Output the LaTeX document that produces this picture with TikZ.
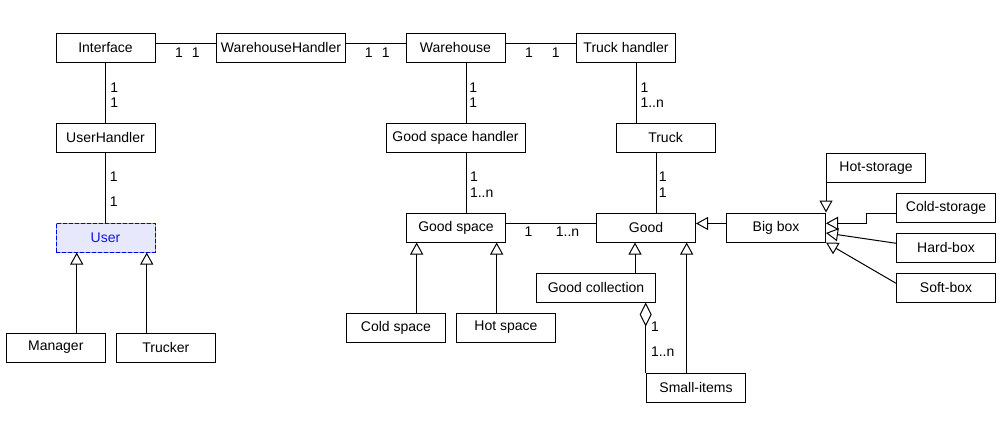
\documentclass[tikz,border=0pt]{standalone}
\usepackage{fontspec}
\setmainfont{Liberation Sans}
\usetikzlibrary{arrows.meta}

\definecolor{userfill}{RGB}{232,232,252}
\definecolor{userline}{RGB}{0,0,225}
\definecolor{userdash}{RGB}{110,160,255}
\definecolor{usertext}{RGB}{20,20,230}

\tikzset{every picture/.style={line width=0.75pt}}
\tikzset{
  cls/.style={draw, minimum width=74.25pt, minimum height=21.75pt, inner sep=2pt, font=\fontsize{10.5}{12}\selectfont},
  userbox/.style={cls, draw=userline, dash pattern=on 3pt off 1.5pt, text=usertext, preaction={draw=userdash, solid, fill=userfill}},
  lbl/.style={inner sep=0pt, font=\fontsize{10.5}{12}\selectfont},
  gen/.style={-{Triangle[open,length=9pt,width=9.75pt]}},
  agg/.style={{Diamond[open,length=18pt,width=9pt]}-},
}

\begin{document}
\begin{tikzpicture}[x=0.75pt,y=0.75pt,yscale=-1,xscale=1]
\useasboundingbox (0,0) rectangle (1006,429);

%Shape: Rectangle [Interface]
\node[cls] (iface) at (105.5,47.5) {Interface};
%Shape: Rectangle [WarehouseHandler]
\node[cls, minimum width=96.75pt] (whandler) at (281,47.5) {WarehouseHandler};
%Shape: Rectangle [Warehouse]
\node[cls] (warehouse) at (455.5,47.5) {Warehouse};
%Shape: Rectangle [Truck handler]
\node[cls] (thandler) at (626,47.5) {Truck handler};
%Shape: Rectangle [UserHandler]
\node[cls] (uhandler) at (105.5,137.5) {UserHandler};
%Shape: Rectangle [Good space handler]
\node[cls, minimum width=104.25pt] (gshandler) at (455.5,137.5) {Good space handler};
%Shape: Rectangle [Truck]
\node[cls] (truck) at (665.5,137.5) {Truck};
%Shape: Rectangle [User]
\node[userbox] (user) at (105.5,237.5) {User};
%Shape: Rectangle [Manager]
\node[cls] (manager) at (55.8,347.5) {Manager};
%Shape: Rectangle [Trucker]
\node[cls] (trucker) at (165.8,347.5) {Trucker};
%Shape: Rectangle [Good space]
\node[cls] (gspace) at (456,227.5) {Good space};
%Shape: Rectangle [Good]
\node[cls] (good) at (646,227.5) {Good};
%Shape: Rectangle [Big box]
\node[cls] (bigbox) at (776,227.5) {Big box};
%Shape: Rectangle [Good collection]
\node[cls, minimum width=89.5pt] (gcoll) at (596,287.5) {Good collection};
%Shape: Rectangle [Cold space]
\node[cls] (cold) at (396,327.5) {Cold space};
%Shape: Rectangle [Hot space]
\node[cls] (hot) at (506,327.5) {Hot space};
%Shape: Rectangle [Small-items]
\node[cls] (small) at (696,387.5) {Small-items};
%Shape: Rectangle [Hot-storage]
\node[cls] (hotst) at (876,167.8) {Hot-storage};
%Shape: Rectangle [Cold-storage]
\node[cls] (coldst) at (946,207.8) {Cold-storage};
%Shape: Rectangle [Hard-box]
\node[cls] (hardbox) at (946,247.8) {Hard-box};
%Shape: Rectangle [Soft-box]
\node[cls] (softbox) at (946,287.8) {Soft-box};

%Straight Lines [associations]
\draw ([yshift=-3pt]iface.east) -- ([yshift=-3pt]whandler.west);
\draw ([yshift=-3pt]whandler.east) -- ([yshift=-3pt]warehouse.west);
\draw ([yshift=-3pt]warehouse.east) -- ([yshift=-3pt]thandler.west);
\draw (iface.south) -- (uhandler.north);
\draw (uhandler.south) -- (user.north);
\draw ([xshift=8.25pt]warehouse.south) -- ([xshift=8.25pt]warehouse.south |- gshandler.north);
\draw ([xshift=8.25pt]gshandler.south) -- ([xshift=8.25pt]gshandler.south |- gspace.north);
\draw ([xshift=7.5pt]thandler.south) -- ([xshift=7.5pt]thandler.south |- truck.north);
\draw ([xshift=-6.75pt]truck.south) -- ([xshift=-6.75pt]truck.south |- good.north);
\draw ([yshift=-3pt]gspace.east) -- ([yshift=-3pt]good.west);

%Straight Lines [generalizations]
\draw[gen] ([xshift=15.7pt]manager.north) -- ([xshift=15.7pt]manager.north |- user.south);
\draw[gen] ([xshift=-14.3pt]trucker.north) -- ([xshift=-14.3pt]trucker.north |- user.south);
\draw[gen] ([xshift=15.5pt]cold.north) -- ([xshift=15.5pt]cold.north |- gspace.south);
\draw[gen] ([xshift=-7pt]hot.north) -- ([xshift=-7pt]hot.north |- gspace.south);
\draw[gen] ([xshift=29.25pt]gcoll.north) -- ([xshift=29.25pt]gcoll.north |- good.south);
\draw[gen] ([xshift=-7pt]small.north) -- ([xshift=-7pt]small.north |- good.south);
\draw[gen] ([yshift=-3pt]bigbox.west) -- ([yshift=-3pt]good.east);
\draw[gen] (hotst.south west) -- (hotst.south west |- bigbox.north);
\draw[gen] ([yshift=4.1pt]coldst.west) -- ++(-30,0) |- ([yshift=-3.15pt]bigbox.east);
\draw[gen] ([yshift=-3.4pt]hardbox.west) -- ([yshift=4.1pt]bigbox.east);
\draw[gen] ([yshift=-3.4pt]softbox.west) -- (bigbox.south east);

%Straight Lines [aggregation]
\draw[agg] ([xshift=37.25pt]gcoll.south) -- ([xshift=37.25pt]gcoll.south |- small.north);

% Text Node
\node[lbl] (m-iw1) at (179,52.3) {1};
\node[lbl] (m-iw2) at (195.7,52.3) {1};
\node[lbl] (m-ww1) at (368.7,52.3) {1};
\node[lbl] (m-ww2) at (385.8,52.3) {1};
\node[lbl] (m-wt1) at (529,52.3) {1};
\node[lbl] (m-wt2) at (555.8,52.3) {1};
\node[lbl] (m-iu1) at (114.2,87.5) {1};
\node[lbl] (m-iu2) at (114.2,102.5) {1};
\node[lbl] (m-uu1) at (113.8,177) {1};
\node[lbl] (m-uu2) at (113.8,202) {1};
\node[lbl] (m-wg1) at (473.3,87.5) {1};
\node[lbl] (m-wg2) at (473.3,102.5) {1};
\node[lbl, anchor=west] (m-tt1) at (640,87.5) {1};
\node[lbl, anchor=west] (m-tt2) at (640,102.5) {1..n};
\node[lbl, anchor=west] (m-gg1) at (469.5,177) {1};
\node[lbl, anchor=west] (m-gg2) at (469.5,192.5) {1..n};
\node[lbl] (m-tg1) at (662.8,177) {1};
\node[lbl] (m-tg2) at (662.8,192.5) {1};
\node[lbl] (m-sg1) at (528.5,231.7) {1};
\node[lbl] (m-sg2) at (567.5,231.7) {1..n};
\node[lbl, anchor=west] (m-cs1) at (650.5,326.7) {1};
\node[lbl, anchor=west] (m-cs2) at (650.5,351.7) {1..n};

\end{tikzpicture}
\end{document}
